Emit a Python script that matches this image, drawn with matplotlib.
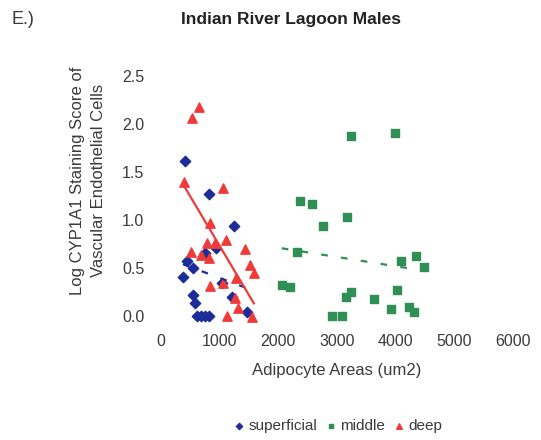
import matplotlib
matplotlib.use('Agg')
import matplotlib.pyplot as plt
import numpy as np

plt.rc('font', family=['Liberation Sans', 'DejaVu Sans'])

# superficial (blue diamonds)
sup_x = [408, 816, 1241, 935, 748, 442, 544, 374, 1037, 544, 578, 1207,
         612, 680, 748, 816, 1462]
sup_y = [1.61, 1.27, 0.94, 0.71, 0.66, 0.57, 0.50, 0.41, 0.34, 0.22, 0.14, 0.20,
         0.0, 0.0, 0.0, 0.0, 0.04]

# middle (green squares)
mid_x = [3231, 3997, 2364, 2568, 3163, 2755, 2313, 4099, 4354, 4490, 2058, 2194,
         3231, 3146, 3639, 4031, 3929, 4235, 4320, 2908, 3078]
mid_y = [1.875, 1.91, 1.20, 1.17, 1.03, 0.94, 0.67, 0.57, 0.63, 0.51, 0.32, 0.30,
         0.25, 0.20, 0.18, 0.27, 0.07, 0.09, 0.04, 0.0, 0.0]

# deep (red triangles)
deep_x = [646, 527, 391, 1054, 833, 782, 918, 1105, 510, 680, 816, 1428, 1514,
          1582, 1275, 833, 1054, 1258, 1309, 1122, 1548]
deep_y = [2.18, 2.06, 1.40, 1.33, 0.97, 0.76, 0.76, 0.79, 0.67, 0.64, 0.60, 0.70,
          0.53, 0.45, 0.40, 0.31, 0.34, 0.19, 0.08, 0.0, -0.01]

c_sup = '#1c2c98'
c_mid = '#2f8f55'
c_deep = '#f03a3a'

fig = plt.figure(figsize=(5.41, 4.40), dpi=100)
ax = fig.add_axes([0.2976, 0.2818, 0.6506, 0.5455])

ax.scatter(sup_x, sup_y, marker='D', s=28, color=c_sup, label='superficial',
           clip_on=False, zorder=3)
ax.scatter(mid_x, mid_y, marker='s', s=30, color=c_mid, label='middle',
           clip_on=False, zorder=3)
ax.scatter(deep_x, deep_y, marker='^', s=45, color=c_deep, label='deep',
           clip_on=False, zorder=4)

# linear trend lines
for xs, ys, col, ls in [(sup_x, sup_y, c_sup, (0, (3, 6))),
                        (mid_x, mid_y, c_mid, (0, (3, 6))),
                        (deep_x, deep_y, c_deep, '-')]:
    pp = np.polyfit(xs, ys, 1)
    pf = np.poly1d(pp)
    xx = np.array([min(xs), max(xs)])
    ax.plot(xx, pf(xx), color=col, ls=ls, lw=1.6, zorder=5)

ax.set_xlim(0, 6000)
ax.set_ylim(0, 2.5)
ax.set_xticks([0, 1000, 2000, 3000, 4000, 5000, 6000])
ax.set_yticks([0.0, 0.5, 1.0, 1.5, 2.0, 2.5])
ax.set_yticklabels(['0.0', '0.5', '1.0', '1.5', '2.0', '2.5'])
for s in ax.spines.values():
    s.set_visible(False)
ax.tick_params(axis='x', length=0, pad=13, labelsize=11.5, labelcolor='#3a3a3a')
ax.tick_params(axis='y', length=0, pad=12, labelsize=11.5, labelcolor='#3a3a3a')

ax.set_xlabel('Adipocyte Areas (um2)', fontsize=12, color='#3a3a3a', labelpad=10)
fig.text(0.162, 0.59, 'Log CYP1A1 Staining Score of\nVascular Endothelial Cells',
         rotation=90, ha='center', va='center', fontsize=12, color='#3a3a3a',
         linespacing=1.5)

fig.text(0.538, 0.955, 'Indian River Lagoon Males', ha='center', va='center',
         fontsize=12.5, fontweight='bold', color='#222222')
fig.text(0.022, 0.955, 'E.)', ha='left', va='center', fontsize=13, color='#3a3a3a')

fig.legend(loc='center', bbox_to_anchor=(0.624, 0.032), ncol=3, frameon=False,
           fontsize=11, handlelength=0.8, handletextpad=0.2, columnspacing=0.5,
           markerscale=0.6, labelcolor='#3a3a3a')

fig.savefig('out.png', dpi=100)
